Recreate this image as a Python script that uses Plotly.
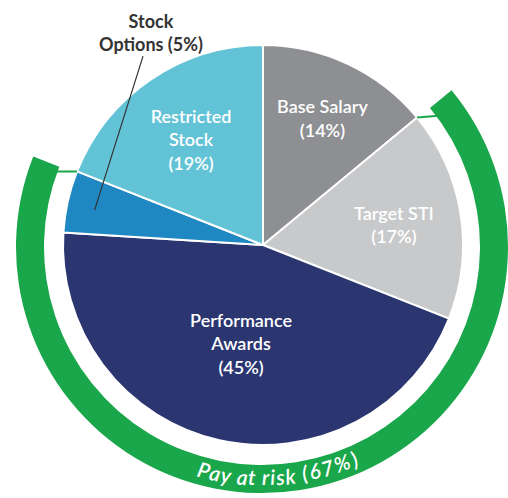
import math
import plotly.graph_objects as go

# slices, clockwise from 12 o'clock
labels = ['Base Salary', 'Target STI', 'Performance<br>Awards', 'Stock Options', 'Restricted<br>Stock']
values = [14, 17, 45, 5, 19]
colors = ['#8e8f93', '#c8c9cb', '#2b3670', '#1f87c2', '#63c3d6']

# pay at risk ring
ring_values = [14, 67, 19]
ring_colors = ['rgba(0,0,0,0)', '#1aa64a', 'rgba(0,0,0,0)']
ring_text = 'Pay at risk (67%)'

W, H = 508, 498
cx, cy, r_pie = 263, 245, 200                    # pie centre / radius, px from top-left
rx, ry, r_out, r_in = 262, 247, 246, 218         # ring centre / radii

def dom(x, y, r):
    return dict(x=[(x - r) / W, (x + r) / W], y=[(H - y - r) / H, (H - y + r) / H])

fig = go.Figure()

fig.add_trace(go.Pie(
    labels=labels, values=values, sort=False, direction='clockwise', rotation=0,
    marker=dict(colors=colors, line=dict(color='white', width=2)),
    texttemplate='%{label}<br>(%{value}%)',
    textposition=['inside', 'inside', 'inside', 'none', 'inside'],
    insidetextorientation='horizontal',
    textfont=dict(family='Lato', size=18, color='white', weight=600),
    domain=dom(cx, cy, r_pie), hoverinfo='label+value', showlegend=False,
))

fig.add_trace(go.Pie(
    values=ring_values, sort=False, direction='clockwise', rotation=0,
    marker=dict(colors=ring_colors, line=dict(width=0)),
    hole=r_in / r_out, textinfo='none', hoverinfo='skip',
    domain=dom(rx, ry, r_out), showlegend=False,
))

def px(x, y, theta, r):
    a = math.radians(theta)
    return (x + r * math.sin(a)) / W, (H - y + r * math.cos(a)) / H

# thin connectors at the ends of the ring
start = ring_values[0] / sum(ring_values) * 360
end = (ring_values[0] + ring_values[1]) / sum(ring_values) * 360
for t, dt in ((start, 3), (end, -1.5)):
    x0, y0 = px(cx, cy, t, r_pie)
    x1, y1 = px(rx, ry, t + dt, r_in + 2)
    fig.add_shape(type='line', xref='paper', yref='paper', x0=x0, y0=y0, x1=x1, y1=y1,
                  line=dict(color='#1aa64a', width=2))

# curved label along the ring
fs = 21
widths = {'P': 10, 'a': 9, 'y': 8.5, ' ': 4, 't': 6, 'r': 6.5, 'i': 4.5, 's': 7.5, 'k': 9,
          '(': 5.5, ')': 5.5, '6': 10, '7': 10, '%': 14}
k = 163 / sum(widths[c] for c in ring_text)
widths = {c: v * k for c, v in widths.items()}
total = sum(widths[c] for c in ring_text)
r_txt = 230
mid = 176
pos = -total / 2
for c in ring_text:
    w = widths[c]
    theta = mid - math.degrees((pos + w / 2) / r_txt)
    x, y = px(rx, ry, theta, r_txt)
    fig.add_annotation(x=x, y=y, xref='paper', yref='paper', text=c, showarrow=False,
                       textangle=theta - 180, xanchor='center', yanchor='middle',
                       font=dict(family='Lato', size=fs, color='white', style='italic', weight=600))
    pos += w

# stock options callout
so_theta = (sum(values[:3]) + values[3] * 0.45) / sum(values) * 360
sx, sy = px(cx, cy, so_theta, 172)
fig.add_annotation(x=sx, y=sy, xref='paper', yref='paper',
                   text='Stock<br>Options (5%)', showarrow=True, arrowhead=0,
                   arrowwidth=1.2, arrowcolor='#333333', ax=56, ay=-178,
                   font=dict(family='Lato', size=18, color='#333333', weight='bold'))

fig.update_layout(width=W, height=H, margin=dict(l=0, r=0, t=0, b=0),
                  paper_bgcolor='white', plot_bgcolor='white')

fig.write_html('out.html', config={'displayModeBar': False},
               post_script="document.body.style.margin='0';")
